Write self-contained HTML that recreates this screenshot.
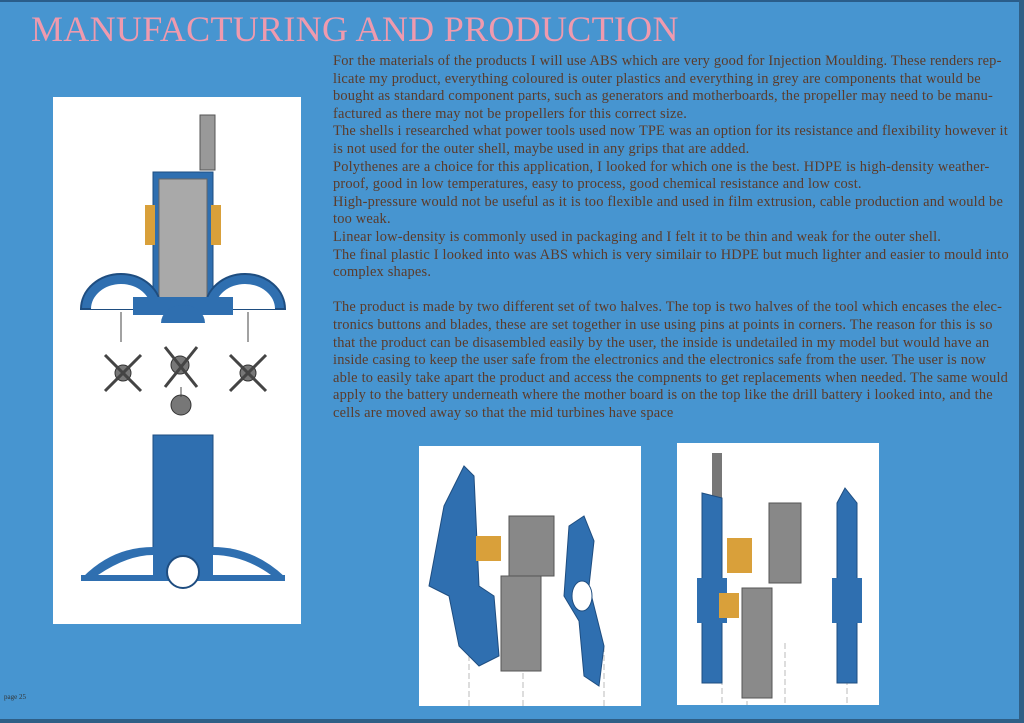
<!DOCTYPE html>
<html><head><meta charset="utf-8"><style>
html,body{margin:0;padding:0}
body{width:1024px;height:723px;background:#4795d0;position:relative;overflow:hidden;font-family:"Liberation Serif",serif}
.top{position:absolute;left:0;top:0;width:1024px;height:2px;background:#2a5d8a}
.bot{position:absolute;left:0;top:719px;width:1024px;height:4px;background:#2f5f86}
.right{position:absolute;left:1019px;top:0;width:5px;height:723px;background:#2f5f86}
h1{position:absolute;left:31px;top:9px;margin:0;font-weight:normal;font-size:36px;line-height:40px;color:#ef9aae;letter-spacing:0.3px;white-space:nowrap}
.txt{position:absolute;left:333px;top:53px;width:690px;font-size:14.4px;line-height:17.6px;color:#5b3b2a;letter-spacing:0.2px}
.txt div{white-space:nowrap}
.panel{position:absolute;background:#fff}
.pg{position:absolute;left:4px;top:693px;font-size:7px;color:#333}
</style></head><body>
<div class="top"></div><div class="right"></div><div class="bot"></div>
<h1>MANUFACTURING AND PRODUCTION</h1>
<div class="txt">
<div>For the materials of the products I will use ABS which are very good for Injection Moulding. These renders rep-</div>
<div>licate my product, everything coloured is outer plastics and everything in grey are components that would be</div>
<div>bought as standard component parts, such as generators and motherboards, the propeller may need to be manu-</div>
<div>factured as there may not be propellers for this correct size.</div>
<div>The shells i researched what power tools used now TPE was an option for its resistance and flexibility however it</div>
<div>is not used for the outer shell, maybe used in any grips that are added.</div>
<div>Polythenes are a choice for this application, I looked for which one is the best. HDPE is high-density weather-</div>
<div>proof, good in low temperatures, easy to process, good chemical resistance and low cost.</div>
<div>High-pressure would not be useful as it is too flexible and used in film extrusion, cable production and would be</div>
<div>too weak.</div>
<div>Linear low-density is commonly used in packaging and I felt it to be thin and weak for the outer shell.</div>
<div>The final plastic I looked into was ABS which is very similair to HDPE but much lighter and easier to mould into</div>
<div>complex shapes.</div>
<div>&nbsp;</div>
<div>The product is made by two different set of two halves. The top is two halves of the tool which encases the elec-</div>
<div>tronics buttons and blades, these are set together in use using pins at points in corners. The reason for this is so</div>
<div>that the product can be disasembled easily by the user, the inside is undetailed in my model but would have an</div>
<div>inside casing to keep the user safe from the electronics and the electronics safe from the user. The user is now</div>
<div>able to easily take apart the product and access the compnents to get replacements when needed. The same would</div>
<div>apply to the battery underneath where the mother board is on the top like the drill battery i looked into, and the</div>
<div>cells are moved away so that the mid turbines have space</div>
</div>

<div class="panel" style="left:53px;top:97px;width:248px;height:527px">
<svg width="248" height="527" viewBox="0 0 248 527">
<rect x="147" y="18" width="15" height="55" fill="#999" stroke="#555"/>
<rect x="100" y="75" width="60" height="130" fill="#2f6fb0" stroke="#1e4d80"/>
<rect x="106" y="82" width="48" height="120" fill="#a9a9a9" stroke="#666"/>
<rect x="92" y="108" width="10" height="40" fill="#d9a03a"/>
<rect x="158" y="108" width="10" height="40" fill="#d9a03a"/>
<path d="M28 212 A40 35 0 0 1 108 212 Z" fill="#2f6fb0" stroke="#1e4d80" stroke-width="2"/>
<path d="M152 212 A40 35 0 0 1 232 212 Z" fill="#2f6fb0" stroke="#1e4d80" stroke-width="2"/>
<path d="M38 212 A30 25 0 0 1 98 212 Z" fill="#fff"/>
<path d="M162 212 A30 25 0 0 1 222 212 Z" fill="#fff"/>
<rect x="80" y="200" width="100" height="18" fill="#2f6fb0"/>
<path d="M108 226 A22 18 0 0 1 152 226 Z" fill="#2f6fb0"/>
<line x1="68" y1="215" x2="68" y2="245" stroke="#444"/><line x1="195" y1="215" x2="195" y2="245" stroke="#444"/>
<g fill="#777" stroke="#333"><circle cx="70" cy="276" r="8"/><circle cx="127" cy="268" r="9"/><circle cx="195" cy="276" r="8"/><circle cx="128" cy="308" r="10"/></g>
<g stroke="#444" stroke-width="3"><line x1="52" y1="258" x2="88" y2="294"/><line x1="88" y1="258" x2="52" y2="294"/><line x1="177" y1="258" x2="213" y2="294"/><line x1="213" y1="258" x2="177" y2="294"/><line x1="112" y1="250" x2="144" y2="290"/><line x1="144" y1="250" x2="112" y2="290"/></g>
<line x1="128" y1="290" x2="128" y2="300" stroke="#444"/>
<rect x="100" y="338" width="60" height="120" fill="#2f6fb0" stroke="#1e4d80"/>
<path d="M30 480 Q60 450 100 450 L160 450 Q200 450 232 480 Z" fill="#2f6fb0"/>
<rect x="28" y="478" width="204" height="6" fill="#2f6fb0"/>
<path d="M45 478 Q75 458 100 458 L100 478 Z M160 458 Q190 458 218 478 L160 478 Z" fill="#fff"/>
<circle cx="130" cy="475" r="16" fill="#fff" stroke="#1e4d80" stroke-width="2"/>
</svg></div>

<div class="panel" style="left:419px;top:446px;width:222px;height:260px">
<svg width="222" height="260">
<g stroke="#bbb" stroke-dasharray="6,3"><line x1="50" y1="200" x2="50" y2="260"/><line x1="104" y1="200" x2="104" y2="260"/><line x1="185" y1="200" x2="185" y2="260"/></g>
<path d="M25 60 L45 20 L55 30 L60 140 L75 150 L80 210 L60 220 L40 200 L30 150 L10 140 Z" fill="#2f6fb0" stroke="#1e4d80"/>
<rect x="57" y="90" width="25" height="25" fill="#d9a03a"/>
<rect x="90" y="70" width="45" height="60" fill="#888" stroke="#555"/>
<rect x="82" y="130" width="40" height="95" fill="#8a8a8a" stroke="#555"/>
<path d="M150 80 L165 70 L175 95 L170 140 L185 200 L180 240 L165 230 L160 175 L145 150 Z" fill="#2f6fb0" stroke="#1e4d80"/>
<ellipse cx="163" cy="150" rx="10" ry="15" fill="#fff" stroke="#1e4d80"/>
</svg></div>

<div class="panel" style="left:677px;top:443px;width:202px;height:262px">
<svg width="202" height="262">
<g stroke="#bbb" stroke-dasharray="6,3"><line x1="45" y1="200" x2="45" y2="262"/><line x1="70" y1="150" x2="70" y2="262"/><line x1="108" y1="200" x2="108" y2="262"/><line x1="170" y1="200" x2="170" y2="262"/></g>
<rect x="35" y="10" width="10" height="45" fill="#777"/>
<path d="M25 50 L45 55 L45 240 L25 240 Z" fill="#2f6fb0" stroke="#1e4d80"/>
<rect x="20" y="135" width="30" height="45" fill="#2f6fb0"/>
<rect x="50" y="95" width="25" height="35" fill="#d9a03a"/>
<rect x="42" y="150" width="20" height="25" fill="#d9a03a"/>
<rect x="92" y="60" width="32" height="80" fill="#888" stroke="#555"/>
<rect x="65" y="145" width="30" height="110" fill="#8a8a8a" stroke="#555"/>
<path d="M168 45 L180 60 L180 240 L160 240 L160 60 Z" fill="#2f6fb0" stroke="#1e4d80"/>
<rect x="155" y="135" width="30" height="45" fill="#2f6fb0"/>
</svg></div>
<div class="pg">page 25</div>
</body></html>
